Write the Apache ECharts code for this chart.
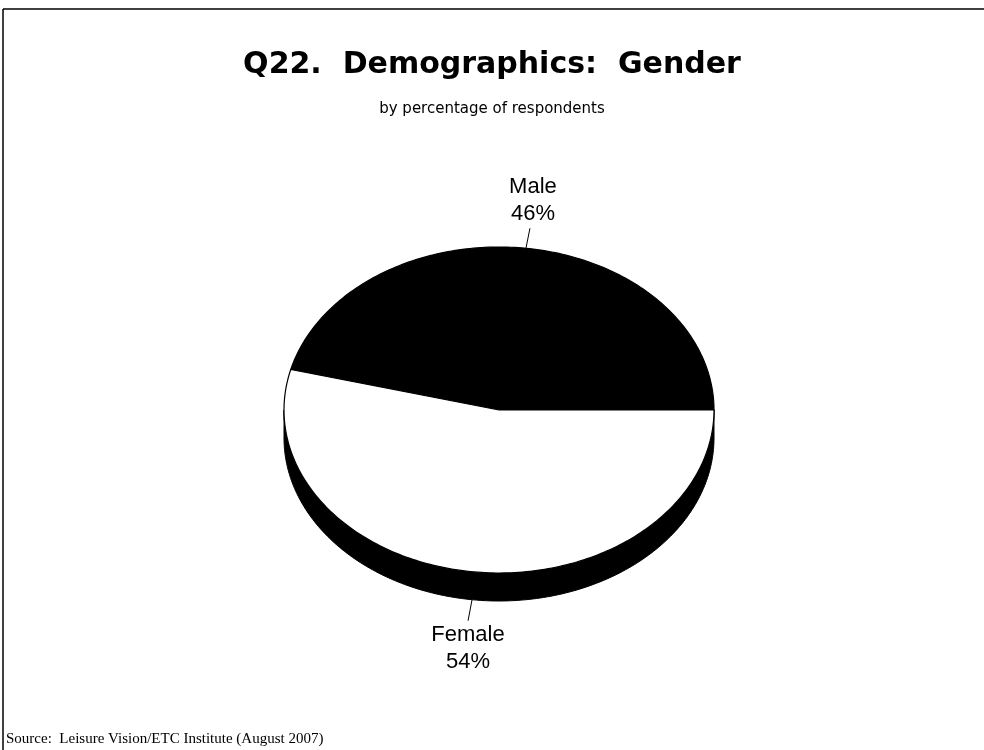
<!DOCTYPE html>
<html>
<head>
<meta charset="utf-8">
<script src="https://cdn.jsdelivr.net/npm/echarts@6/dist/echarts.min.js"></script>
<style>
html,body{margin:0;padding:0;background:#fff;}
#main{width:984px;height:750px;}
</style>
</head>
<body>
<div id="main"></div>
<script>
// ---- data ----
var categories = ['Male', 'Female'];
var percentages = [46, 54];
var sliceColors = ['#000000', '#ffffff'];
var titleText = 'Q22.  Demographics:  Gender';
var subtitleText = 'by percentage of respondents';
var sourceText = 'Source:  Leisure Vision/ETC Institute (August 2007)';

var chart = echarts.init(document.getElementById('main'), null, {renderer: 'canvas'});

var CX = 499, CY = 410, RX = 215, RY = 163, DEPTH = 28;
var total = percentages.reduce(function (a, b) { return a + b; }, 0);
function startAngle(i) {
  var s = 0;
  for (var k = 0; k < i; k++) s += percentages[k];
  return s / total * 360;
}
function pt(deg, dy) {
  var r = deg * Math.PI / 180;
  return [CX + RX * Math.cos(r), CY - RY * Math.sin(r) + (dy || 0)];
}
function arcPts(a, b, dy) {
  var pts = [];
  var n = Math.max(2, Math.ceil(Math.abs(b - a) / 1));
  for (var k = 0; k <= n; k++) pts.push(pt(a + (b - a) * k / n, dy));
  return pts;
}

function renderItem(params, api) {
  var i = params.dataIndex;
  var v = api.value(1);
  var a = startAngle(i);
  var b = a + v / total * 360;
  var children = [];
  // side wall (front half only)
  var wa = Math.max(a, 180), wb = Math.min(b, 360);
  if (wb > wa) {
    var top = arcPts(wa, wb, 0);
    var bot = arcPts(wa, wb, DEPTH).reverse();
    children.push({
      type: 'polygon',
      z2: 1,
      shape: {points: top.concat(bot)},
      style: {fill: '#000', stroke: '#000', lineWidth: 1}
    });
  }
  // top face
  children.push({
    type: 'polygon',
    z2: 10,
    shape: {points: [[CX, CY]].concat(arcPts(a, b, 0))},
    style: {fill: sliceColors[i], stroke: '#000', lineWidth: 1.2}
  });
  // label + leader
  var m = (a + b) / 2;
  var lower = Math.sin(m * Math.PI / 180) < 0;
  var p = pt(m, lower ? DEPTH : 0);
  var end = lower ? [p[0] - 4, p[1] + 21] : [p[0] + 4, p[1] - 20];
  children.push({
    type: 'line',
    z2: 20,
    shape: {x1: p[0], y1: p[1], x2: end[0], y2: end[1]},
    style: {stroke: '#000', lineWidth: 1}
  });
  children.push({
    type: 'text',
    z2: 20,
    style: {
      text: categories[i] + '\n' + v + '%',
      x: end[0] + (lower ? 0 : 3),
      y: lower ? end[1] + 1 : end[1] - 1,
      align: 'center',
      verticalAlign: lower ? 'top' : 'bottom',
      fontSize: 22,
      fontFamily: 'Liberation Sans, Arial, sans-serif',
      lineHeight: 27,
      fill: '#000'
    }
  });
  return {type: 'group', children: children};
}

var option = {
  backgroundColor: '#ffffff',
  animation: false,
  title: {
    text: titleText,
    subtext: subtitleText,
    left: 'center',
    top: 44,
    itemGap: 20,
    textStyle: {fontSize: 30, fontWeight: 'bold', color: '#000', fontFamily: 'DejaVu Sans, sans-serif', lineHeight: 32},
    subtextStyle: {fontSize: 15, color: '#000', fontFamily: 'DejaVu Sans, sans-serif', lineHeight: 16}
  },
  graphic: [
    {type: 'line', shape: {x1: 3, y1: 9, x2: 984, y2: 9}, style: {stroke: '#000', lineWidth: 1.5}},
    {type: 'line', shape: {x1: 3, y1: 9, x2: 3, y2: 750}, style: {stroke: '#000', lineWidth: 1.5}},
    {type: 'text', left: 6, top: 732, style: {text: sourceText, fontSize: 15, fontFamily: 'Liberation Serif, Times New Roman, serif', fill: '#000'}}
  ],
  series: [{
    type: 'custom',
    coordinateSystem: 'none',
    renderItem: renderItem,
    data: categories.map(function (c, i) { return [i, percentages[i]]; })
  }]
};
chart.setOption(option);
</script>
</body>
</html>
